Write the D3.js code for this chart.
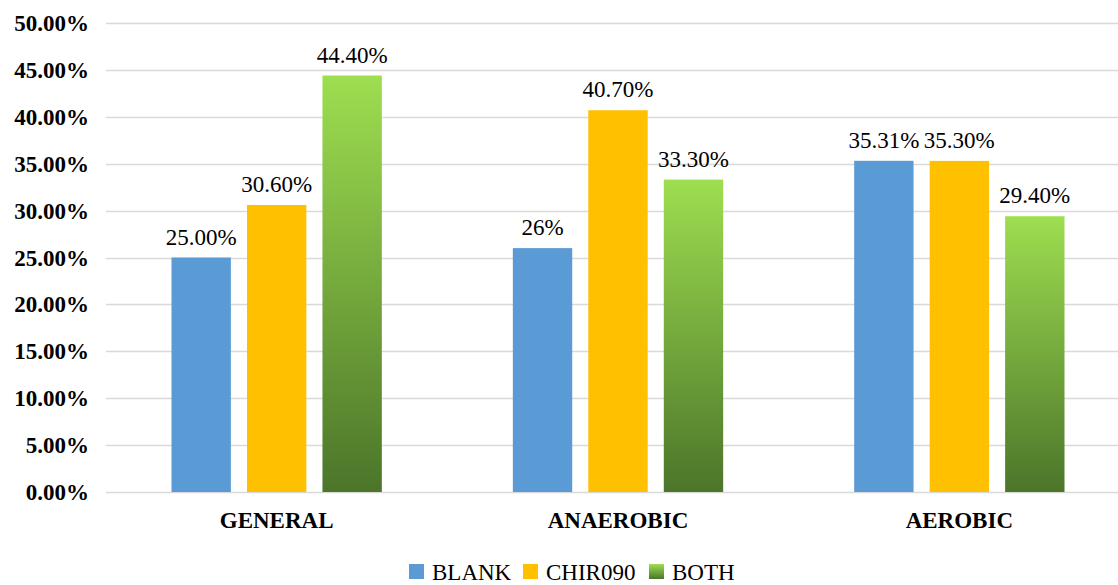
<!DOCTYPE html>
<html>
<head>
<meta charset="utf-8">
<script src="https://cdn.jsdelivr.net/npm/d3@7/dist/d3.min.js"></script>
<style>
  html, body { margin: 0; padding: 0; background: #ffffff; }
  svg { display: block; }
</style>
</head>
<body>
<svg id="chart" width="1118" height="585"></svg>
<script>
// Categories and series
const categories = ["GENERAL", "ANAEROBIC", "AEROBIC"];
const seriesNames = ["BLANK", "CHIR090", "BOTH"];

// Values per series (fractions), one per category
const blankValues = [0.25, 0.26, 0.3531];
const chirValues = [0.306, 0.407, 0.353];
const bothValues = [0.444, 0.333, 0.294];

// Data label text per series
const blankLabels = ["25.00%", "26%", "35.31%"];
const chirLabels = ["30.60%", "40.70%", "35.30%"];
const bothLabels = ["44.40%", "33.30%", "29.40%"];

// Y axis ticks
const yTicks = [0, 0.05, 0.10, 0.15, 0.20, 0.25, 0.30, 0.35, 0.40, 0.45, 0.50];
const yTickLabels = ["0.00%", "5.00%", "10.00%", "15.00%", "20.00%", "25.00%",
                     "30.00%", "35.00%", "40.00%", "45.00%", "50.00%"];

const seriesValues = [blankValues, chirValues, bothValues];
const seriesLabels = [blankLabels, chirLabels, bothLabels];

const FONT = "Tinos, 'Liberation Serif', 'Times New Roman', serif";
const svg = d3.select("#chart");
const W = 1118;

const plotLeft = 106, plotRight = 1130;
const y = d3.scaleLinear().domain([0, 0.5]).range([492, 23]);
const x0 = d3.scaleBand().domain(categories).range([plotLeft, plotRight]).padding(0);
const x1 = d3.scaleBand().domain(seriesNames)
  .range([65.5, x0.bandwidth() - 65.5])
  .paddingInner(16 / 75).paddingOuter(0);

// Bar fills
const defs = svg.append("defs");
const grad = defs.append("linearGradient")
  .attr("id", "bothGrad")
  .attr("x1", 0).attr("y1", 0).attr("x2", 0).attr("y2", 1);
grad.append("stop").attr("offset", "0%").attr("stop-color", "#9ede50");
grad.append("stop").attr("offset", "100%").attr("stop-color", "#4c752a");

const fills = { "BLANK": "#5b9bd5", "CHIR090": "#ffc000", "BOTH": "url(#bothGrad)" };

// Gridlines
svg.append("g").selectAll("line")
  .data(yTicks)
  .join("line")
  .attr("x1", plotLeft).attr("x2", W)
  .attr("y1", d => Math.round(y(d)) + 0.5)
  .attr("y2", d => Math.round(y(d)) + 0.5)
  .attr("stroke", "#d9d9d9")
  .attr("stroke-width", 1.3);

// Y axis labels
svg.append("g").selectAll("text")
  .data(yTicks)
  .join("text")
  .attr("x", 89)
  .attr("y", d => y(d) + 8)
  .attr("text-anchor", "end")
  .attr("font-size", 23)
  .style("font-family", FONT)
  .style("font-weight", "bold")
  .attr("fill", "#000")
  .text((d, i) => yTickLabels[i]);

// Bars
const rows = [];
seriesNames.forEach((s, si) => {
  categories.forEach((c, ci) => {
    rows.push({ series: s, cat: c, value: seriesValues[si][ci], label: seriesLabels[si][ci] });
  });
});

svg.append("g").selectAll("rect")
  .data(rows)
  .join("rect")
  .attr("x", d => x0(d.cat) + x1(d.series))
  .attr("y", d => y(d.value))
  .attr("width", x1.bandwidth())
  .attr("height", d => y(0) - y(d.value))
  .attr("fill", d => fills[d.series]);

// Data labels
svg.append("g").selectAll("text")
  .data(rows)
  .join("text")
  .attr("x", d => x0(d.cat) + x1(d.series) + x1.bandwidth() / 2)
  .attr("y", d => y(d.value) - 13)
  .attr("text-anchor", "middle")
  .attr("font-size", 23)
  .style("font-family", FONT)
  .attr("fill", "#000")
  .text(d => d.label);

// Category labels
svg.append("g").selectAll("text")
  .data(categories)
  .join("text")
  .attr("x", d => x0(d) + x0.bandwidth() / 2)
  .attr("y", 528)
  .attr("text-anchor", "middle")
  .attr("font-size", 23)
  .style("font-family", FONT)
  .style("font-weight", "bold")
  .attr("fill", "#000")
  .text(d => d);

// Legend
const legendX = [409, 523, 649];
const items = svg.append("g").selectAll("g")
  .data(seriesNames)
  .join("g")
  .attr("transform", (d, i) => `translate(${legendX[i]},564)`);
items.append("rect")
  .attr("width", 15).attr("height", 15)
  .attr("fill", d => fills[d]);
items.append("text")
  .attr("x", 23).attr("y", 16)
  .attr("font-size", 23)
  .style("font-family", FONT)
  .attr("fill", "#000")
  .text(d => d);
</script>
</body>
</html>
